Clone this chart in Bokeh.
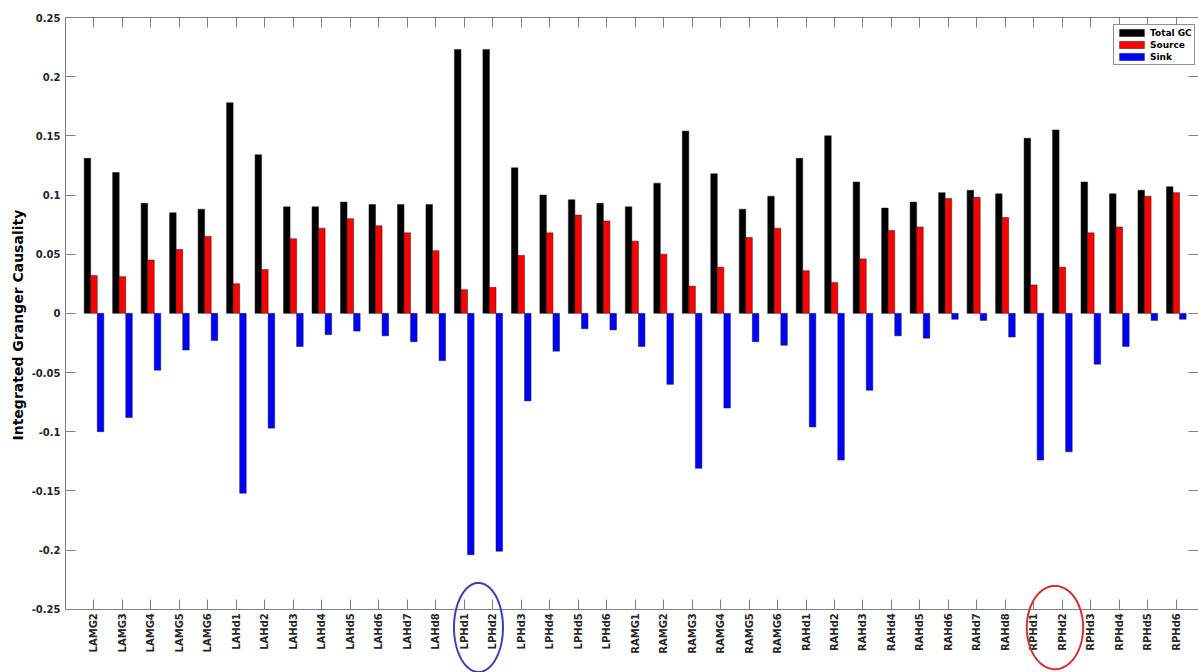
import numpy as np
from bokeh.plotting import figure
from bokeh.models import (Range1d, FixedTicker, LinearAxis, Legend, LegendItem, Title,
                          ColumnDataSource, PolyAnnotation, CustomJSTickFormatter)
from bokeh.transform import dodge
from bokeh.embed import file_html
from bokeh.resources import INLINE

# ---------------- data ----------------
channels = ["LAMG2", "LAMG3", "LAMG4", "LAMG5", "LAMG6",
            "LAHd1", "LAHd2", "LAHd3", "LAHd4", "LAHd5", "LAHd6", "LAHd7", "LAHd8",
            "LPHd1", "LPHd2", "LPHd3", "LPHd4", "LPHd5", "LPHd6",
            "RAMG1", "RAMG2", "RAMG3", "RAMG4", "RAMG5", "RAMG6",
            "RAHd1", "RAHd2", "RAHd3", "RAHd4", "RAHd5", "RAHd6", "RAHd7", "RAHd8",
            "RPHd1", "RPHd2", "RPHd3", "RPHd4", "RPHd5", "RPHd6"]

total_gc = [0.131, 0.119, 0.093, 0.085, 0.088,
            0.178, 0.134, 0.090, 0.090, 0.094, 0.092, 0.092, 0.092,
            0.223, 0.223, 0.123, 0.100, 0.096, 0.093,
            0.090, 0.110, 0.154, 0.118, 0.088, 0.099,
            0.131, 0.150, 0.111, 0.089, 0.094, 0.102, 0.104, 0.101,
            0.148, 0.155, 0.111, 0.101, 0.104, 0.107]

source = [0.032, 0.031, 0.045, 0.054, 0.065,
          0.025, 0.037, 0.063, 0.072, 0.080, 0.074, 0.068, 0.053,
          0.020, 0.022, 0.049, 0.068, 0.083, 0.078,
          0.061, 0.050, 0.023, 0.039, 0.064, 0.072,
          0.036, 0.026, 0.046, 0.070, 0.073, 0.097, 0.098, 0.081,
          0.024, 0.039, 0.068, 0.073, 0.099, 0.102]

sink = [-0.100, -0.088, -0.048, -0.031, -0.023,
        -0.152, -0.097, -0.028, -0.018, -0.015, -0.019, -0.024, -0.040,
        -0.204, -0.201, -0.074, -0.032, -0.013, -0.014,
        -0.028, -0.060, -0.131, -0.080, -0.024, -0.027,
        -0.096, -0.124, -0.065, -0.019, -0.021, -0.005, -0.006, -0.020,
        -0.124, -0.117, -0.043, -0.028, -0.006, -0.005]

series_names = ["Total GC", "Source", "Sink"]
series_colors = ["#000000", "#ff0000", "#0000ff"]

y_ticks = [-0.25, -0.2, -0.15, -0.1, -0.05, 0, 0.05, 0.1, 0.15, 0.2, 0.25]
y_tick_labels = ["-0.25", "-0.2", "-0.15", "-0.1", "-0.05", "0",
                 "0.05", "0.1", "0.15", "0.2", "0.25"]
y_title = "Integrated Granger Causality"

# channel pairs circled below the axis (blue, red)
highlight_pairs = [("LPHd1", "LPHd2"), ("RPHd1", "RPHd2")]

# ---------------- styling constants ----------------
FONT = "DejaVu Sans"
AXIS_GRAY = "#808080"
LABEL_COLOR = "#262626"
BAR_W = 0.23
OFFSETS = [-0.23, 0.0, 0.23]
Y_LO, Y_HI = y_ticks[0], y_ticks[-1]
X_END = 39.78
Y_CANVAS_BOTTOM = -0.3035   # room below the axis for labels and circles

x = np.arange(1, len(channels) + 1)

src = ColumnDataSource(dict(x=x, total=total_gc, source=source, sink=sink, name=channels))

p = figure(width=1198, height=672,
           x_range=Range1d(0, X_END), y_range=Range1d(Y_CANVAS_BOTTOM, Y_HI),
           output_backend="svg", toolbar_location=None,
           min_border_left=65, min_border_right=0,
           min_border_top=17, min_border_bottom=0,
           outline_line_color=None, x_axis_location=None,
           background_fill_color="white", border_fill_color="white")
p.xgrid.visible = False
p.ygrid.visible = False

renderers = []
for col, off, color in zip(["total", "source", "sink"], OFFSETS, series_colors):
    r = p.vbar(x=dodge("x", off), top=col, bottom=0, width=BAR_W, source=src,
               fill_color=color, line_color="#1a1a1a", line_width=0.5)
    renderers.append(r)

# ---------------- axes ----------------
xticker = FixedTicker(ticks=[int(v) for v in x])
yticker = FixedTicker(ticks=y_ticks)

xa = LinearAxis(ticker=xticker, fixed_location=Y_LO)
xa.major_label_overrides = {int(v): n for v, n in zip(x, channels)}
xa.major_label_orientation = np.pi / 2
p.add_layout(xa, "below")

ya = p.yaxis[0]
ya.ticker = yticker
ya.bounds = (Y_LO, Y_HI)
ya.major_label_overrides = {t: l for t, l in zip(y_ticks, y_tick_labels)}

for ax in (xa, ya):
    ax.axis_line_color = AXIS_GRAY
    ax.major_tick_line_color = AXIS_GRAY
    ax.major_tick_in = 10
    ax.major_tick_out = 0
    ax.minor_tick_line_color = None
    ax.major_label_text_font = FONT
    ax.major_label_text_font_style = "bold"
    ax.major_label_text_font_size = "10px"
    ax.major_label_text_color = LABEL_COLOR
xa.major_label_standoff = 4
ya.major_label_standoff = 5

# y title placed so it is centred on the drawn axis (-0.25..0.25), not the frame
p.add_layout(Title(text=y_title, align="left", offset=232, standoff=6,
                   text_font=FONT, text_font_style="bold", text_font_size="14px",
                   text_color="#000000"), "left")

blank = CustomJSTickFormatter(code="return ''")
top_ax = LinearAxis(ticker=xticker, formatter=blank, axis_line_color=AXIS_GRAY,
                    major_tick_line_color=AXIS_GRAY, major_tick_in=10, major_tick_out=0,
                    minor_tick_line_color=None, major_label_standoff=0,
                    major_label_text_font_size="1px")
right_ax = LinearAxis(ticker=yticker, formatter=blank, axis_line_color=AXIS_GRAY,
                      major_tick_line_color=AXIS_GRAY, major_tick_in=10, major_tick_out=0,
                      minor_tick_line_color=None, major_label_standoff=0,
                      major_label_text_font_size="1px", bounds=(Y_LO, Y_HI))
p.add_layout(top_ax, "above")
p.add_layout(right_ax, "right")

# ---------------- legend ----------------
legend = Legend(items=[LegendItem(label=n, renderers=[r]) for n, r in zip(series_names, renderers)],
                location=(1048, 607), orientation="vertical",
                border_line_color="#202020", border_line_width=0.8,
                background_fill_color="white", background_fill_alpha=1,
                label_text_font=FONT, label_text_font_style="bold",
                label_text_font_size="9px", label_text_color="#000000",
                glyph_width=31, glyph_height=9, label_height=11,
                label_standoff=3, padding=2, spacing=1, margin=0)
p.add_layout(legend)

# ---------------- highlight ellipses (annotations around tick labels) ----------------
t = np.linspace(0, 2 * np.pi, 160)
ellipse_styles = [dict(dx=0.0, half_w=0.86, cy=-0.2654, half_h=0.0376, color="#3c3fb4"),
                  dict(dx=0.24, half_w=0.99, cy=-0.2655, half_h=0.0352, color="#d03030")]
for (a, b), st in zip(highlight_pairs, ellipse_styles):
    cx = (x[channels.index(a)] + x[channels.index(b)]) / 2 + st["dx"]
    p.add_layout(PolyAnnotation(xs=list(cx + st["half_w"] * np.cos(t)),
                                ys=list(st["cy"] + st["half_h"] * np.sin(t)),
                                xs_units="data", ys_units="data",
                                fill_color=None, fill_alpha=0, line_alpha=1,
                                line_color=st["color"], line_width=2))

open("out.html", "w").write(file_html(p, INLINE))
